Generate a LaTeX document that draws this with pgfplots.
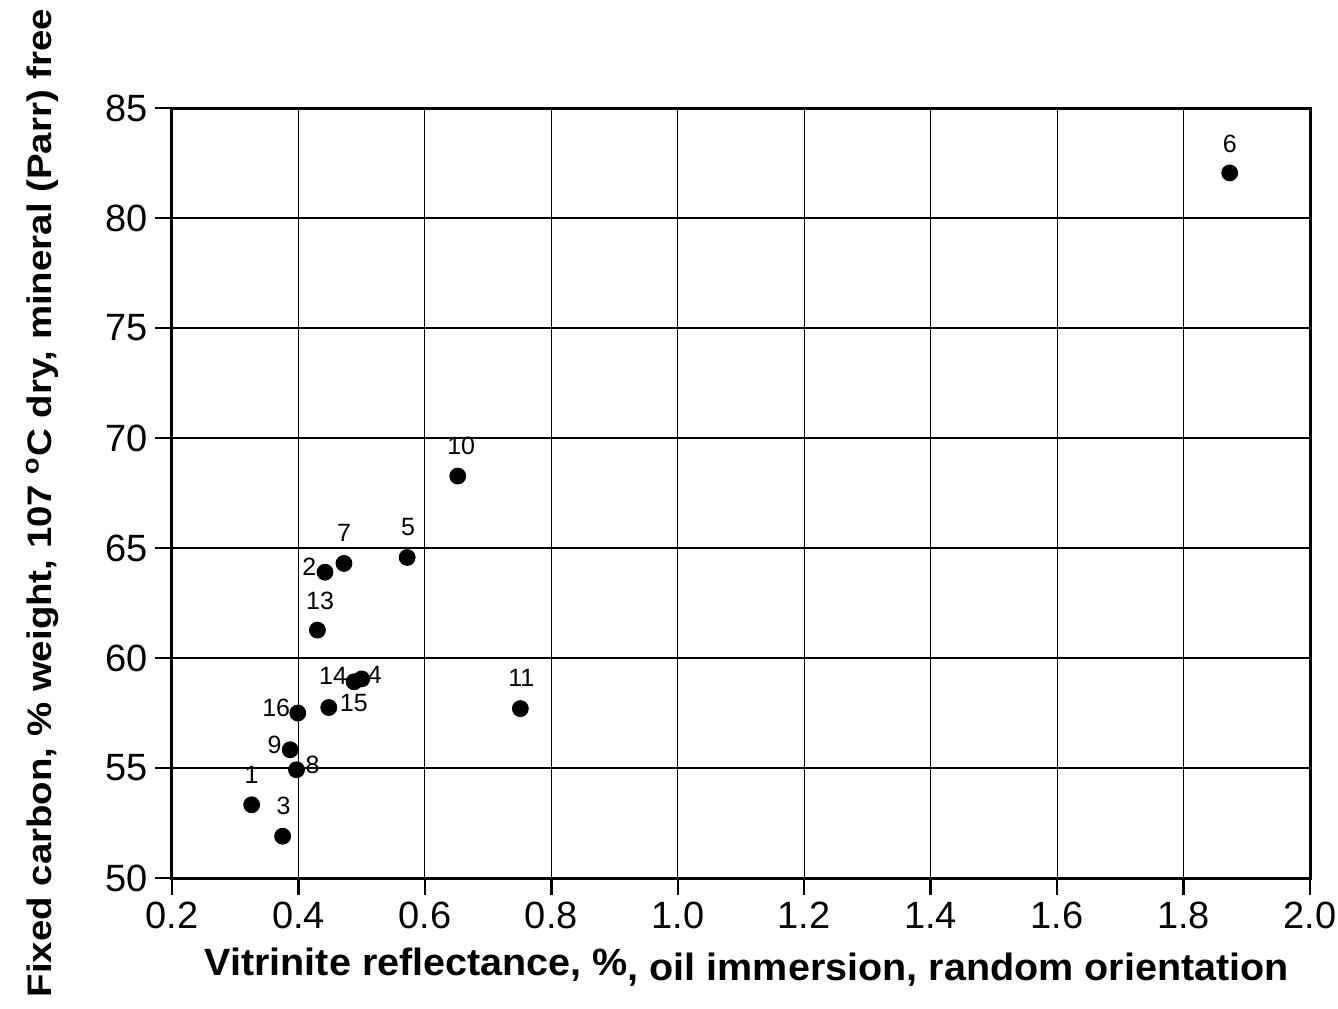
\documentclass[border=0pt]{standalone}
\usepackage{fontspec}
\setmainfont{Liberation Sans}
\usepackage{pgfplots}
\pgfplotsset{compat=1.18}
\begin{document}
\begin{tikzpicture}
\begin{axis}[
  at={(0,0)}, anchor=south west,
  scale only axis, width=569pt, height=385pt,
  xmin=0.2, xmax=2.0, ymin=50, ymax=85,
  xtick={0.2,0.4,...,2.0}, ytick={50,55,...,85},
  xticklabel style={/pgf/number format/.cd, fixed, fixed zerofill, precision=1},
  /pgf/number format/assume math mode=true,
  tick label style={font=\fontsize{19}{21}\selectfont},
  tick align=outside, major tick length=8.5pt,
  tick style={line width=1.2pt, black},
  axis line style={line width=1.5pt},
  xtick pos=bottom, ytick pos=left,
  grid=major, major grid style={line width=0.6pt, black},
  xlabel={\scalebox{1.04}[1]{\bfseries Vitrinite reflectance, \%\raisebox{-2.5pt}{, oil immersion, random orientation}}},
  xlabel style={at={(axis description cs:0.505,0)}, anchor=base, yshift=-48.5pt, font=\fontsize{19}{22}\selectfont},
  ylabel={\scalebox{1.13}[1]{\bfseries Fixed carbon, \% weight, 107 \textsuperscript{o}C dry, mineral (Parr) free}},
  ylabel style={at={(axis description cs:-0.1142,0.487)}, anchor=center, font=\fontsize{17}{20}\selectfont},
  clip=false,
]
\addplot[only marks, mark=*, mark size=4pt, black] coordinates {
(0.326,53.33) (0.442,63.90) (0.375,51.90) (0.500,59.05) (0.572,64.57)
(1.873,82.05) (0.472,64.30) (0.397,54.92) (0.387,55.83) (0.652,68.27)
(0.751,57.70) (0.430,61.27) (0.488,58.92) (0.448,57.75) (0.399,57.50)
};
\begin{scope}[every node/.style={font=\fontsize{12.5}{14}\selectfont, inner sep=0pt, anchor=center}]
\node[yshift=14.7pt] at (axis cs:0.326,53.33) {1};
\node[xshift=-7.8pt, yshift=2.5pt] at (axis cs:0.442,63.90) {2};
\node[xshift=0.5pt, yshift=15pt] at (axis cs:0.375,51.90) {3};
\node[xshift=6.6pt, yshift=2.2pt] at (axis cs:0.500,59.05) {4};
\node[xshift=0.5pt, yshift=15pt] at (axis cs:0.572,64.57) {5};
\node[yshift=14.5pt] at (axis cs:1.873,82.05) {6};
\node[yshift=15.2pt] at (axis cs:0.472,64.30) {7};
\node[xshift=8pt, yshift=2.5pt] at (axis cs:0.397,54.92) {8};
\node[xshift=-7.8pt, yshift=2.5pt] at (axis cs:0.387,55.83) {9};
\node[xshift=1.7pt, yshift=15pt] at (axis cs:0.652,68.27) {10};
\node[xshift=0.5pt, yshift=15.3pt] at (axis cs:0.751,57.70) {11};
\node[xshift=1.3pt, yshift=14.7pt] at (axis cs:0.430,61.27) {13};
\node[xshift=-10.5pt, yshift=3pt] at (axis cs:0.488,58.92) {14};
\node[xshift=12.5pt, yshift=2.2pt] at (axis cs:0.448,57.75) {15};
\node[xshift=-10.8pt, yshift=2.8pt] at (axis cs:0.399,57.50) {16};
\end{scope}
\end{axis}
\pgfresetboundingbox
\path[use as bounding box] (-86pt,-65pt) rectangle (583pt,439pt);
\end{tikzpicture}
\end{document}
